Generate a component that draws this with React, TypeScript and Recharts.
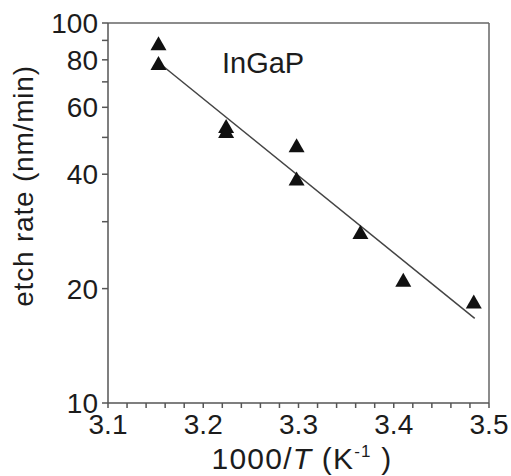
import { ReferenceLine, Scatter, ScatterChart, XAxis, YAxis } from "recharts";

// 1000/T (K^-1) and etch rate (nm/min)
const INV_TEMP = [3.153, 3.153, 3.224, 3.224, 3.298, 3.298, 3.365, 3.41, 3.484];
const ETCH_RATE = [88.5, 78.5, 53.6, 52.0, 47.7, 39.0, 28.2, 21.1, 18.5];

// end points of the fitted Arrhenius line
const FIT_INV_TEMP = [3.153, 3.485];
const FIT_RATE = [78.7, 16.7];

const X_TICKS = [
  3.1, 3.12, 3.14, 3.16, 3.18, 3.2, 3.22, 3.24, 3.26, 3.28, 3.3, 3.32, 3.34, 3.36, 3.38, 3.4,
  3.42, 3.44, 3.46, 3.48, 3.5,
];
const X_LABELS = ["3.1", "3.2", "3.3", "3.4", "3.5"];
const Y_TICKS = [10, 20, 30, 40, 50, 60, 70, 80, 90, 100];
const Y_LABELS = [10, 20, 40, 60, 80, 100];

const points = INV_TEMP.map((x, i) => ({ x, y: ETCH_RATE[i] }));
const fitLine = FIT_INV_TEMP.map((x, i) => ({ x, y: FIT_RATE[i] }));

const FONT = "Arial, 'Liberation Sans', Helvetica, sans-serif";
const INK = "#1c1c1c";
const AXIS = "#555";

function XTick(props: any) {
  const label = Number(props.payload.value).toFixed(2).replace(/0$/, "");
  if (!X_LABELS.includes(label)) return <g />;
  return (
    <text x={props.x} y={props.y} dy="0.71em" textAnchor="middle" fontSize={28} fontFamily={FONT} fill={INK}>
      {label}
    </text>
  );
}

function YTick(props: any) {
  const v = Number(props.payload.value);
  if (!Y_LABELS.includes(v)) return <g />;
  return (
    <text x={props.x} y={props.y} dy="0.36em" textAnchor="end" fontSize={28} fontFamily={FONT} fill={INK}>
      {v}
    </text>
  );
}

function Triangle(props: any) {
  const { cx, cy } = props;
  if (cx == null || cy == null) return <g />;
  const w = 8;
  const h = 7;
  return <polygon points={`${cx - w},${cy + h} ${cx + w},${cy + h} ${cx},${cy - h}`} fill="#111" />;
}

export default function App() {
  return (
    <div style={{ position: "absolute", left: 0, top: 0, width: 511, height: 476, background: "#fff" }}>
      <ScatterChart width={511} height={476} margin={{ top: 23, right: 22, bottom: 0, left: 0 }}>
        <XAxis
          type="number"
          dataKey="x"
          domain={[3.1, 3.5]}
          ticks={X_TICKS}
          interval={0}
          tickSize={5}
          tickMargin={6}
          height={73}
          stroke={AXIS}
          strokeWidth={1.5}
          tick={<XTick />}
        />
        <YAxis
          type="number"
          dataKey="y"
          scale="log"
          domain={[10, 100]}
          ticks={Y_TICKS}
          interval={0}
          tickSize={6}
          tickMargin={4}
          width={108}
          stroke={AXIS}
          strokeWidth={1.5}
          tick={<YTick />}
        />
        <ReferenceLine x={3.5} stroke="#666" strokeWidth={1.5} />
        <ReferenceLine y={100} stroke="#666" strokeWidth={1.5} />
        <Scatter
          data={fitLine}
          line={{ stroke: "#444", strokeWidth: 1.5 }}
          shape={() => <g />}
          isAnimationActive={false}
        />
        <Scatter data={points} shape={<Triangle />} isAnimationActive={false} />
      </ScatterChart>
      <svg
        width={511}
        height={476}
        style={{ position: "absolute", left: 0, top: 0, pointerEvents: "none" }}
        fontFamily={FONT}
        fill={INK}
      >
        <text x={222} y={73} fontSize={29}>
          InGaP
        </text>
        <text transform="translate(33,186) rotate(-90)" textAnchor="middle" fontSize={28} letterSpacing={0.8}>
          etch rate (nm/min)
        </text>
        <text x={302} y={469} textAnchor="middle" fontSize={30} letterSpacing={1.2}>
          1000/
          <tspan fontStyle="italic">T</tspan>
          <tspan> (K</tspan>
          <tspan dy={-12} fontSize={17}>
            -1
          </tspan>
          <tspan dy={12}> )</tspan>
        </text>
      </svg>
    </div>
  );
}
